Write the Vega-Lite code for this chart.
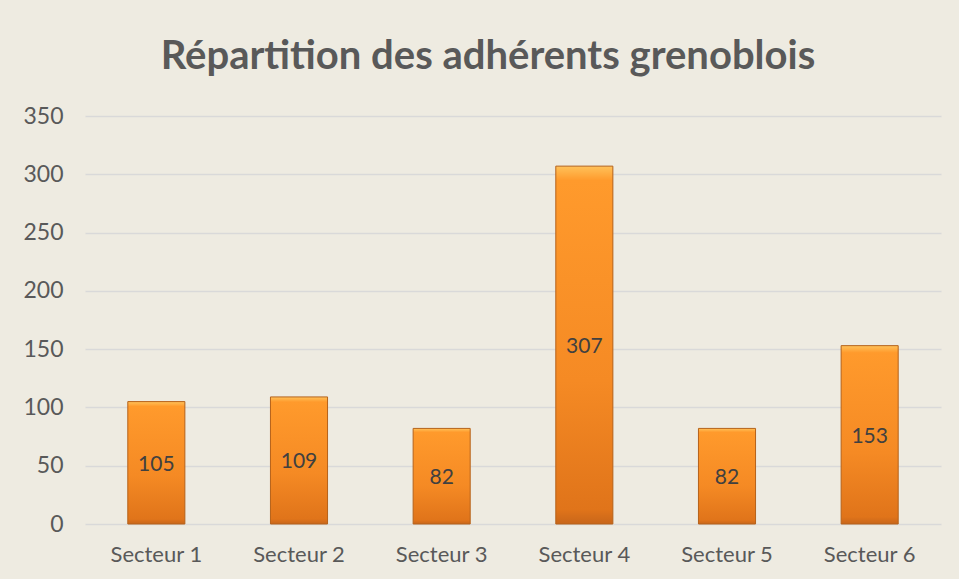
{
  "$schema": "https://vega.github.io/schema/vega-lite/v6.json",
  "width": 856,
  "height": 408,
  "autosize": {"type": "none"},
  "padding": {"left": 85, "top": 116, "right": 18, "bottom": 55},
  "background": "#EEEBE1",
  "title": {
    "text": "Répartition des adhérents grenoblois",
    "font": "Lato",
    "fontSize": 40,
    "fontWeight": "bold",
    "color": "#595959",
    "anchor": "middle",
    "frame": "bounds",
    "offset": 28,
    "dx": 6
  },
  "data": {
    "values": [
      {"secteur": "Secteur 1", "n": 105},
      {"secteur": "Secteur 2", "n": 109},
      {"secteur": "Secteur 3", "n": 82},
      {"secteur": "Secteur 4", "n": 307},
      {"secteur": "Secteur 5", "n": 82},
      {"secteur": "Secteur 6", "n": 153}
    ]
  },
  "encoding": {
    "x": {
      "field": "secteur",
      "type": "nominal",
      "sort": null,
      "scale": {"paddingInner": 0.6, "paddingOuter": 0.3},
      "axis": {
        "title": null,
        "labelAngle": 0,
        "domain": false,
        "ticks": false,
        "labelPadding": 20,
        "labelFont": "Lato",
        "labelFontSize": 22,
        "labelColor": "#595959"
      }
    }
  },
  "layer": [
    {
      "mark": {
        "type": "bar",
        "stroke": "#B5621A",
        "strokeWidth": 1,
        "color": {
          "gradient": "linear",
          "x1": 0, "y1": 0, "x2": 0, "y2": 1,
          "stops": [
            {"offset": 0, "color": "#FFC25A"},
            {"offset": 0.04, "color": "#FF9A2C"},
            {"offset": 0.6, "color": "#F58A24"},
            {"offset": 0.96, "color": "#E0741A"},
            {"offset": 1, "color": "#C8661A"}
          ]
        }
      },
      "encoding": {
        "y": {
          "field": "n",
          "type": "quantitative",
          "scale": {"domain": [0, 350], "nice": false},
          "axis": {
            "title": null,
            "values": [0, 50, 100, 150, 200, 250, 300, 350],
            "domain": false,
            "ticks": false,
            "labelPadding": 22,
            "labelFont": "Lato",
            "labelFontSize": 23,
            "labelColor": "#595959",
            "gridColor": "#D9D9D9",
            "gridWidth": 1.5
          }
        }
      }
    },
    {
      "mark": {
        "type": "text",
        "font": "Lato",
        "fontSize": 21,
        "color": "#404040",
        "baseline": "middle",
        "dy": 2
      },
      "encoding": {
        "y": {
          "field": "n",
          "type": "quantitative",
          "scale": {"domain": [0, 700], "nice": false},
          "axis": null
        },
        "text": {"field": "n", "type": "quantitative"}
      }
    }
  ],
  "resolve": {"scale": {"y": "independent"}},
  "config": {"view": {"stroke": null}}
}
